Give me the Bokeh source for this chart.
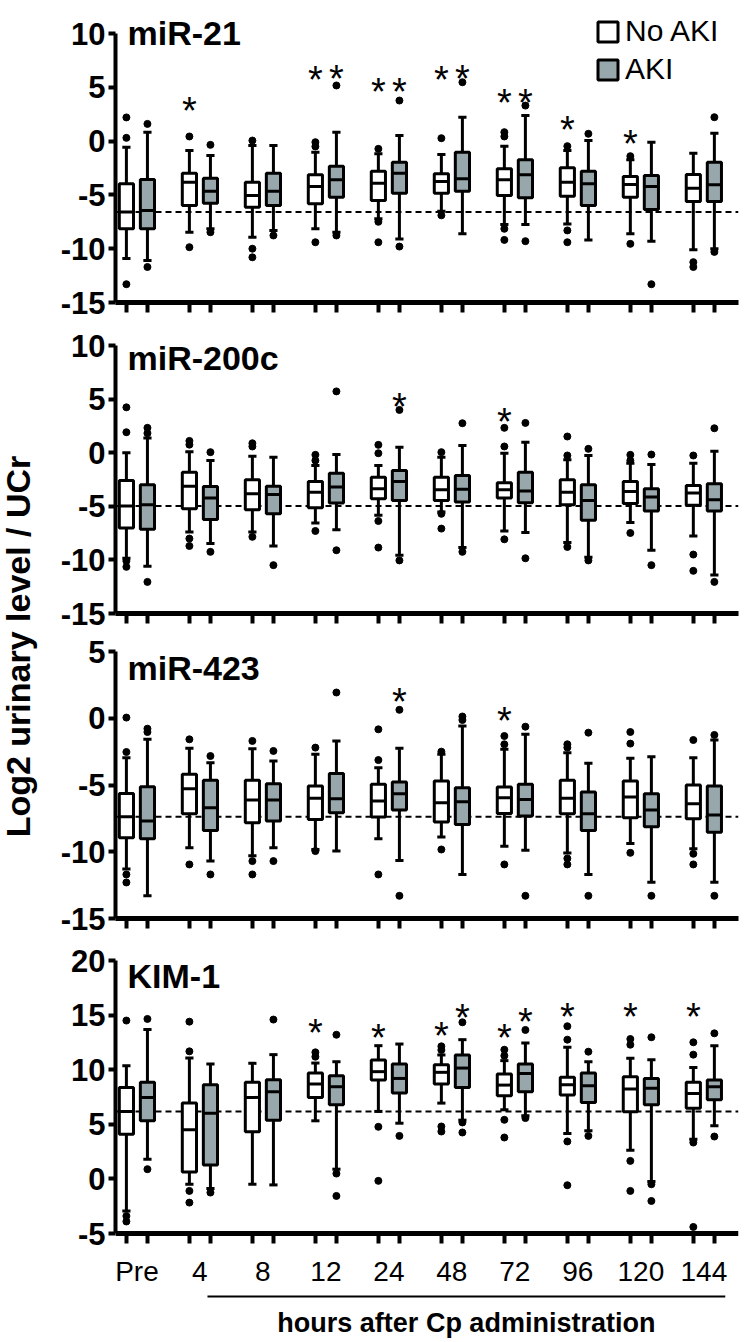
import numpy as np
from bokeh.plotting import figure
from bokeh.models import (Range1d, FixedTicker, Span, Label, Legend, LegendItem,
                          ColumnDataSource, BoxAnnotation)
from bokeh.layouts import row, column
from bokeh.embed import file_html
from bokeh.resources import INLINE
from bokeh.core.properties import value

# ---------------- data ----------------
categories = ["Pre", "4", "8", "12", "24", "48", "72", "96", "120", "144"]
groups = ["No AKI", "AKI"]
panel_titles = ["miR-21", "miR-200c", "miR-423", "KIM-1"]
y_label = "Log2 urinary level / UCr"
x_note = "hours after Cp administration"

mir21_yticks = [-15, -10, -5, 0, 5, 10]
mir200c_yticks = [-15, -10, -5, 0, 5, 10]
mir423_yticks = [-15, -10, -5, 0, 5]
kim1_yticks = [-5, 0, 5, 10, 15, 20]

# miR-21
mir21_no_q1 = [-8.15, -5.98, -6.14, -5.83, -5.52, -4.84, -5.06, -5.12, -5.21, -5.61]
mir21_no_med = [-6.6, -3.82, -5.06, -4.22, -3.91, -3.75, -3.6, -3.82, -4.03, -4.38]
mir21_no_q3 = [-3.97, -2.98, -3.82, -3.13, -2.8, -3.04, -2.58, -2.48, -3.29, -3.1]
mir21_no_lo = [-10.9, -8.47, -8.93, -8.15, -7.22, -6.51, -7.75, -7.7, -8.6, -10.1]
mir21_no_hi = [-0.57, -0.87, -0.4, -1.03, -1.18, -1.25, -0.47, -0.87, -1.74, -1.12]
mir21_no_out = [[2.2, 0.3, -13.3], [0.43, -9.86], [0.05, -10.0, -10.8], [-0.1, -0.5, -9.4],
                [-0.72, -7.5, -9.4], [0.27, -6.9], [0.83, 0.43, -8.15, -9.18],
                [-0.47, -8.3, -9.4], [-1.4, -9.55], [-11.25, -11.7]]
mir21_aki_q1 = [-8.15, -5.77, -5.98, -5.21, -4.84, -4.65, -5.27, -5.98, -6.36, -5.61]
mir21_aki_med = [-6.45, -4.65, -4.65, -3.6, -2.98, -3.5, -3.13, -3.97, -4.22, -4.06]
mir21_aki_q3 = [-3.57, -3.45, -2.98, -2.33, -1.96, -1.03, -1.74, -2.8, -3.2, -1.96]
mir21_aki_lo = [-11.1, -8.15, -8.3, -8.47, -9.09, -8.6, -7.75, -9.18, -9.3, -10.0]
mir21_aki_hi = [0.83, -1.34, -0.4, 0.83, 0.52, 2.22, 2.38, 0.05, -0.1, 0.73]
mir21_aki_out = [[1.6, -11.7], [-0.35, -8.47], [-8.77], [5.17, -8.77], [3.77, -9.8],
                 [5.47], [3.3, -9.3], [0.68], [-13.3], [2.22, -10.3]]
mir21_no_star = [None, 3.5, None, 6.4, 5.3, 6.4, 4.24, 1.76, 0.43, None]
mir21_aki_star = [None, None, None, 6.5, 5.35, 6.5, 4.24, None, None, None]

# miR-200c
mir200c_no_q1 = [-7.02, -5.22, -5.32, -5.13, -4.29, -4.45, -4.23, -4.85, -4.75, -4.91]
mir200c_no_med = [-4.98, -3.12, -3.83, -3.68, -3.36, -3.45, -3.45, -3.68, -3.61, -3.77]
mir200c_no_q3 = [-2.59, -1.82, -2.52, -2.68, -2.28, -2.28, -2.8, -2.52, -2.68, -3.05]
mir200c_no_lo = [-9.85, -7.4, -7.4, -6.56, -5.84, -5.54, -7.3, -8.38, -6.52, -7.77]
mir200c_no_hi = [0.0, 0.1, -0.32, -1.19, -1.19, -0.42, -0.05, -0.66, -0.98, -0.98]
mir200c_no_out = [[4.23, 1.91, -10.1, -10.65], [1.1, 0.75, -8.01, -8.7], [0.88, 0.58, -7.85],
                  [-0.2, -0.73, -7.3], [0.73, -0.05, -6.37, -8.85], [0.05, -5.7, -7.08],
                  [2.32, 0.58, -8.08], [1.51, -0.26, -8.79], [-0.2, -0.73, -7.49],
                  [-0.26, -9.5, -11.02]]
mir200c_aki_q1 = [-7.15, -6.22, -5.69, -4.7, -4.45, -4.61, -4.66, -6.31, -5.44, -5.44]
mir200c_aki_med = [-4.85, -4.23, -3.89, -3.21, -2.68, -3.42, -3.58, -4.45, -4.14, -4.38]
mir200c_aki_q3 = [-2.99, -3.15, -3.12, -1.91, -1.66, -2.12, -1.82, -2.99, -3.36, -2.89]
mir200c_aki_lo = [-10.59, -8.48, -8.7, -7.18, -9.56, -8.85, -7.45, -9.75, -9.1, -11.42]
mir200c_aki_hi = [1.38, -0.73, -0.42, -0.17, 0.51, 0.67, 0.98, -0.26, -1.1, 0.14]
mir200c_aki_out = [[2.32, 1.82, -12.05], [0.05, -9.25], [-10.49], [5.72, -9.1], [3.99, -10.05],
                   [2.75, -9.25], [2.78, -9.85], [0.36, -10.05], [-0.17, -10.49], [2.28, -12.05]]
mir200c_no_star = [None, None, None, None, None, None, 3.62, None, None, None]
mir200c_aki_star = [None, None, None, None, 5.01, None, None, None, None, None]

# miR-423
mir423_no_q1 = [-8.95, -7.15, -7.83, -7.58, -7.4, -7.78, -7.13, -7.15, -7.45, -7.53]
mir423_no_med = [-7.38, -5.28, -6.13, -6.0, -6.2, -6.33, -5.95, -6.0, -5.9, -6.4]
mir423_no_q3 = [-5.63, -4.2, -4.65, -5.08, -4.95, -4.7, -5.15, -4.65, -4.7, -5.0]
mir423_no_lo = [-11.3, -9.7, -10.3, -9.83, -9.03, -8.9, -9.58, -10.1, -9.38, -9.78]
mir423_no_hi = [-2.95, -2.25, -2.28, -2.7, -3.7, -2.7, -2.33, -2.58, -3.0, -2.95]
mir423_no_out = [[0.05, -2.53, -11.7, -12.3], [-1.58, -10.95], [-1.7, -10.7, -11.7],
                 [-2.2, -9.95], [-0.83, -3.13, -11.7], [-2.5, -9.83], [-1.33, -1.95, -10.95],
                 [-1.95, -2.2, -10.5, -10.95], [-1.03, -1.9, -10.08], [-1.63, -10.15, -10.95]]
mir423_aki_q1 = [-9.03, -8.4, -7.7, -7.08, -6.88, -7.95, -7.33, -8.4, -8.13, -8.53]
mir423_aki_med = [-7.7, -6.7, -6.13, -6.03, -5.65, -6.25, -6.08, -7.15, -6.88, -7.25]
mir423_aki_q3 = [-5.13, -4.65, -4.9, -4.13, -4.78, -5.2, -4.95, -5.53, -5.65, -5.08]
mir423_aki_lo = [-13.3, -10.7, -9.7, -9.95, -10.65, -11.7, -9.88, -11.7, -12.28, -12.28]
mir423_aki_hi = [-1.58, -3.33, -3.2, -1.7, -2.25, -0.58, -1.2, -3.38, -2.88, -1.63]
mir423_aki_out = [[-0.78, -1.03], [-2.83, -11.7], [-2.45, -10.7], [1.93], [0.63, -13.3],
                  [0.13, -0.13], [-0.63, -13.3], [-1.08, -13.3], [-13.3], [-1.25, -13.3]]
mir423_no_star = [None, None, None, None, None, None, 0.43, None, None, None]
mir423_aki_star = [None, None, None, None, 1.8, None, None, None, None, None]

# KIM-1
kim1_no_q1 = [4.1, 0.64, 4.31, 7.46, 9.05, 8.69, 7.61, 7.68, 6.15, 6.48]
kim1_no_med = [6.18, 4.5, 7.46, 8.69, 9.82, 9.76, 8.59, 8.62, 8.23, 7.83]
kim1_no_q3 = [8.38, 6.94, 8.84, 9.69, 10.89, 10.46, 9.6, 9.3, 9.36, 8.84]
kim1_no_lo = [-2.94, -0.49, -0.49, 5.32, 6.18, 6.94, 6.33, 4.16, 2.63, 3.64]
kim1_no_hi = [10.37, 11.07, 10.58, 10.61, 12.2, 11.35, 10.83, 12.05, 11.04, 10.21]
kim1_no_out = [[14.5, -3.4, -3.9], [14.4, 11.68, -1.1, -2.17], [], [11.59, 11.19],
               [4.77, -0.18], [12.14, 11.8, 4.8, 4.34], [11.83, 11.28, 5.41, 3.79],
               [12.75, 13.98, 3.43, -0.58], [12.29, 12.81, 1.65, -1.1], [11.38, 12.51, 3.33, -4.4]]
kim1_aki_q1 = [5.32, 1.28, 5.38, 6.79, 7.86, 8.38, 7.98, 7.0, 6.79, 7.25]
kim1_aki_med = [7.46, 6.02, 7.98, 8.44, 9.2, 10.15, 9.66, 8.53, 8.29, 8.44]
kim1_aki_q3 = [8.84, 8.62, 9.08, 9.45, 10.52, 11.35, 10.52, 9.69, 9.2, 9.05]
kim1_aki_lo = [1.8, -0.89, -0.55, 0.89, 5.1, 5.38, 5.78, 4.4, -0.24, 4.86]
kim1_aki_hi = [13.67, 10.52, 11.38, 10.73, 12.35, 12.75, 12.45, 10.73, 10.92, 12.2]
kim1_aki_out = [[14.65, 0.89], [-1.25], [14.59], [13.2, 0.49, -1.56], [3.94],
                [14.34, 5.17, 4.25], [13.64, 5.57], [11.65, 3.94], [12.97, -0.49, -2.02],
                [13.33, 3.88]]
kim1_no_star = [None, None, None, 14.1, 13.67, 13.8, 13.67, 15.57, 15.57, 15.57]
kim1_aki_star = [None, None, None, None, None, 15.47, 15.1, None, None, None]

# ---------------- style / layout ----------------
FONT = "Liberation Sans"
GRAY = "#97A7AB"
OFF = 0.167       # half distance between paired boxes
BW = 0.225        # box width
CW = 0.13         # whisker cap width
X_START, X_END = -0.34, 9.55
BRACKET = (1.12, 9.34)

# page pixel positions (page origin at 0,0)
FIG_TOP = [0, 322, 633, 938]
TOP_TICK = [33, 345, 651, 960]
FRAME_BOTTOM = [302, 613, 918, 1233]
FIG_BOTTOM = [322, 633, 938, 1340]
TITLE_BASE = [32, 357, 667, 975]
LABEL_W = 53
PANEL_W = 692
BORDER_L = 62
BORDER_R = 7

panels = [
    (panel_titles[0], mir21_yticks,
     (mir21_no_q1, mir21_no_med, mir21_no_q3, mir21_no_lo, mir21_no_hi, mir21_no_out, mir21_no_star),
     (mir21_aki_q1, mir21_aki_med, mir21_aki_q3, mir21_aki_lo, mir21_aki_hi, mir21_aki_out, mir21_aki_star)),
    (panel_titles[1], mir200c_yticks,
     (mir200c_no_q1, mir200c_no_med, mir200c_no_q3, mir200c_no_lo, mir200c_no_hi, mir200c_no_out, mir200c_no_star),
     (mir200c_aki_q1, mir200c_aki_med, mir200c_aki_q3, mir200c_aki_lo, mir200c_aki_hi, mir200c_aki_out, mir200c_aki_star)),
    (panel_titles[2], mir423_yticks,
     (mir423_no_q1, mir423_no_med, mir423_no_q3, mir423_no_lo, mir423_no_hi, mir423_no_out, mir423_no_star),
     (mir423_aki_q1, mir423_aki_med, mir423_aki_q3, mir423_aki_lo, mir423_aki_hi, mir423_aki_out, mir423_aki_star)),
    (panel_titles[3], kim1_yticks,
     (kim1_no_q1, kim1_no_med, kim1_no_q3, kim1_no_lo, kim1_no_hi, kim1_no_out, kim1_no_star),
     (kim1_aki_q1, kim1_aki_med, kim1_aki_q3, kim1_aki_lo, kim1_aki_hi, kim1_aki_out, kim1_aki_star)),
]

x_range = Range1d(X_START, X_END)
idx = np.arange(len(categories))
box_positions = sorted(list(idx - OFF) + list(idx + OFF))

figs = []
for k, (title, yticks, no, aki) in enumerate(panels):
    last = (k == len(panels) - 1)
    ymin, ymax = min(yticks), max(yticks)
    ppu = (FRAME_BOTTOM[k] - TOP_TICK[k]) / (ymax - ymin)
    y_end = ymax + (TOP_TICK[k] - FIG_TOP[k]) / ppu
    if last:
        # frame reaches the figure bottom; the x axis is pinned at ymin
        frame_bottom = FIG_BOTTOM[k]
        y_start = ymin - (FIG_BOTTOM[k] - FRAME_BOTTOM[k]) / ppu
        border_b = 0
    else:
        frame_bottom = FRAME_BOTTOM[k]
        y_start = ymin
        border_b = FIG_BOTTOM[k] - FRAME_BOTTOM[k]
    p = figure(width=PANEL_W, height=FIG_BOTTOM[k] - FIG_TOP[k],
               x_range=x_range, y_range=Range1d(y_start, y_end),
               toolbar_location=None, output_backend="svg",
               min_border_top=0, min_border_left=BORDER_L, min_border_right=BORDER_R,
               min_border_bottom=border_b)
    p.outline_line_color = None
    p.grid.visible = False
    p.background_fill_color = "white"
    p.border_fill_color = "white"

    renderers = []
    for sign, (q1, med, q3, lo, hi, outs, stars), fill in ((-1, no, "white"), (1, aki, GRAY)):
        x = idx + sign * OFF
        src = ColumnDataSource(dict(x=x, q1=q1, med=med, q3=q3, lo=lo, hi=hi,
                                    xl=x - BW / 2, xr=x + BW / 2, cl=x - CW / 2, cr=x + CW / 2))
        kw = dict(source=src, line_color="black", line_width=3)
        p.segment("x", "q3", "x", "hi", **kw)
        p.segment("x", "q1", "x", "lo", **kw)
        p.segment("cl", "hi", "cr", "hi", **kw)
        p.segment("cl", "lo", "cr", "lo", **kw)
        r = p.vbar(x="x", bottom="q1", top="q3", width=BW, fill_color=fill,
                   line_color="black", line_width=3, source=src)
        renderers.append(r)
        p.segment("xl", "med", "xr", "med", **kw)
        ox = [i + sign * OFF for i, vals in enumerate(outs) for _ in vals]
        oy = [v for vals in outs for v in vals]
        p.scatter(ox, oy, size=7, color="black")
        sx = [i + sign * OFF for i, s in enumerate(stars) if s is not None]
        sy = [s for s in stars if s is not None]
        p.text(x=sx, y=sy, text=["*"] * len(sx), text_font=value(FONT),
               text_font_size="38px", text_align="center", text_baseline="middle",
               y_offset=8, text_color="black")

    # baseline: Pre No AKI median
    p.add_layout(Span(location=no[1][0], dimension="width", line_color="black",
                      line_width=2, line_dash="6 4", level="underlay"))

    # panel title
    p.add_layout(Label(x=12, y=frame_bottom - TITLE_BASE[k], x_units="screen", y_units="screen",
                       text=title, text_font=FONT, text_font_size="34px",
                       text_font_style="bold", text_baseline="alphabetic", text_color="black"))

    # y axis
    ya = p.yaxis[0]
    ya.ticker = FixedTicker(ticks=yticks)
    ya.major_label_overrides = {t: str(t) for t in yticks}
    ya.bounds = (ymin, ymax)
    ya.axis_line_width = 4
    ya.axis_line_color = "black"
    ya.major_tick_out = 7
    ya.major_tick_in = 0
    ya.major_tick_line_width = 4
    ya.major_tick_line_color = "black"
    ya.minor_tick_line_color = None
    ya.major_label_text_font = FONT
    ya.major_label_text_font_size = "31px"
    ya.major_label_text_font_style = "bold"
    ya.major_label_text_color = "black"
    ya.major_label_standoff = 3

    # x axis
    xa = p.xaxis[0]
    xa.axis_line_width = 5
    xa.axis_line_color = "black"
    xa.major_tick_line_color = None
    xa.major_tick_in = 0
    xa.major_tick_out = 10
    xa.minor_tick_in = 0
    xa.minor_tick_out = 10
    xa.minor_tick_line_width = 4
    xa.minor_tick_line_color = "black"
    if last:
        xa.fixed_location = ymin
        xa.ticker = FixedTicker(ticks=list(idx), minor_ticks=box_positions)
        xa.major_label_overrides = {int(i): c for i, c in zip(idx, categories)}
        xa.major_label_text_font = FONT
        xa.major_label_text_font_size = "28px"
        xa.major_label_text_color = "black"
        xa.major_label_standoff = 12
        p.add_layout(BoxAnnotation(left=BRACKET[0], right=BRACKET[1],
                                   top=frame_bottom - 1295, bottom=frame_bottom - 1297,
                                   top_units="screen", bottom_units="screen",
                                   fill_color="black", fill_alpha=1, line_color=None,
                                   level="overlay"))
        p.add_layout(Label(x=(BRACKET[0] + BRACKET[1]) / 2, y=frame_bottom - 1322,
                           x_units="data", y_units="screen",
                           text=x_note, text_font=FONT, text_font_size="27px",
                           text_font_style="bold", text_align="center",
                           text_baseline="middle", text_color="black"))
    else:
        xa.ticker = FixedTicker(ticks=[], minor_ticks=box_positions)
        xa.major_label_standoff = 0

    if k == 0:
        legend = Legend(items=[LegendItem(label=groups[0], renderers=[renderers[0]]),
                               LegendItem(label=groups[1], renderers=[renderers[1]])],
                        location=(480, 216), orientation="vertical",
                        glyph_width=25, glyph_height=25, label_height=25,
                        label_standoff=5, spacing=4, padding=0, margin=0,
                        border_line_color=None, background_fill_alpha=0,
                        label_text_font=FONT, label_text_font_size="30px",
                        label_text_color="black")
        p.add_layout(legend)
    figs.append(p)

total_h = FIG_BOTTOM[-1] - FIG_TOP[0]
lab = figure(width=LABEL_W, height=total_h, x_range=Range1d(0, 1), y_range=Range1d(0, 1),
             toolbar_location=None, output_backend="svg", x_axis_location=None,
             y_axis_location=None, min_border=0)
lab.outline_line_color = None
lab.grid.visible = False
lab.add_layout(Label(x=17, y=FIG_BOTTOM[-1] - 646, x_units="screen", y_units="screen",
                     text=y_label, angle=90, angle_units="deg", text_align="center",
                     text_baseline="middle", text_font=FONT, text_font_size="34px",
                     text_font_style="bold", text_color="black"))

layout = row(lab, column(*figs))
open("out.html", "w").write(file_html(layout, INLINE))
